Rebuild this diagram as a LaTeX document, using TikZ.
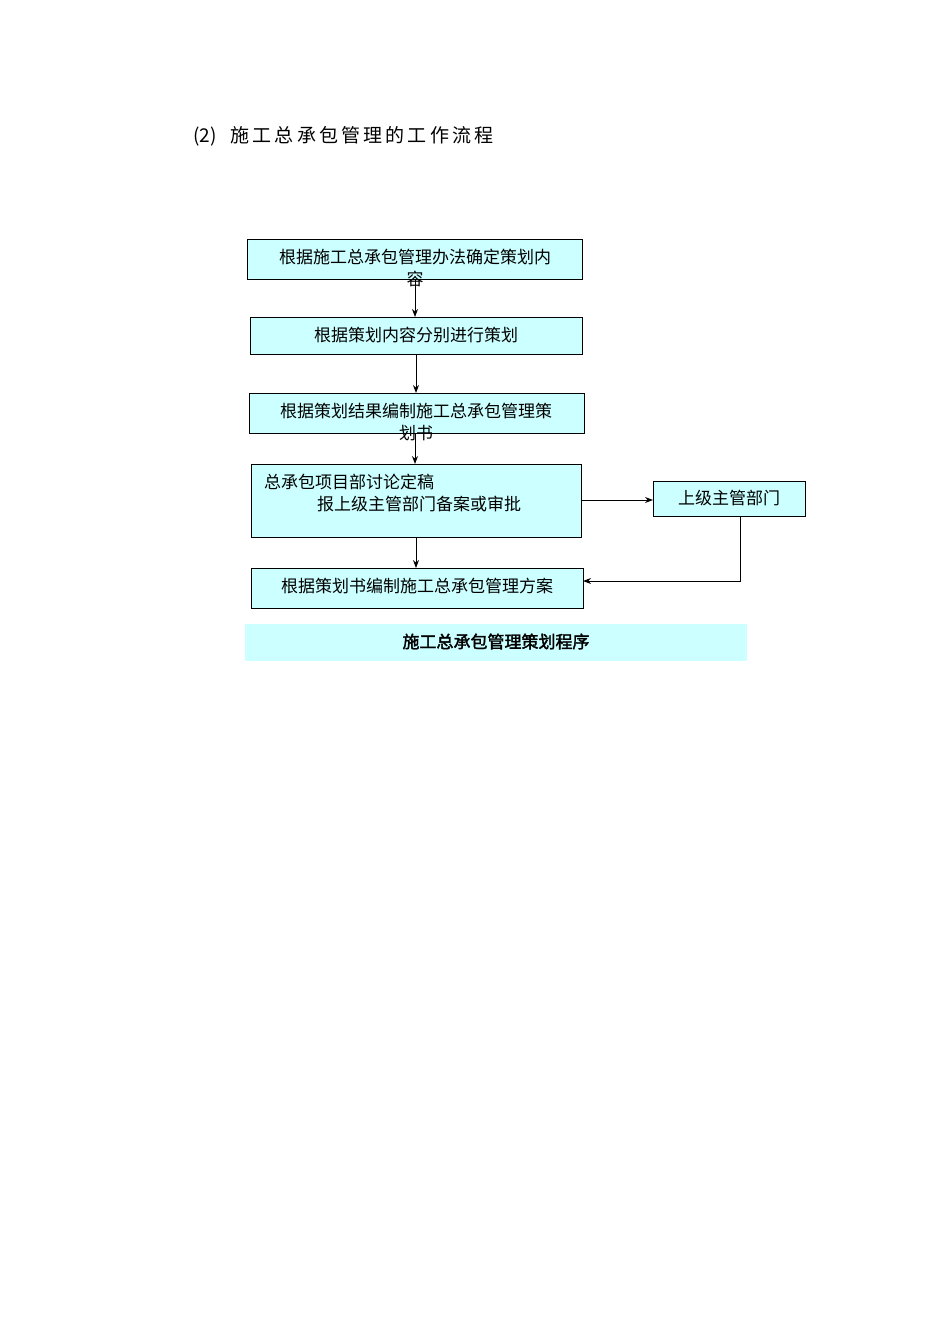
\documentclass[tikz,border=0pt]{standalone}
\usepackage{fontspec}
\newfontfamily\cjk[AutoFakeBold=2]{Noto Sans CJK SC}
\usetikzlibrary{arrows.meta}
\definecolor{boxc}{HTML}{CCFFFF}
\tikzset{
 bx/.style={draw=black,line width=1pt,fill=boxc},
 ln/.style={line width=1pt},
 ar/.style={line width=1pt,-{Stealth[length=8pt,width=6pt]}},
 tx/.style={font=\cjk\fontsize{17}{20}\selectfont,inner sep=0pt,anchor=base}
}
\begin{document}
\begin{tikzpicture}[x=1pt,y=-1pt]
\useasboundingbox[fill=white] (0,0) rectangle (950,1344);
\node[tx,anchor=base west,font=\cjk\fontsize{19}{22}\selectfont] (title) at (193,142) {(2)\hspace{14pt}施\,工\,总\,承\,包\,管\,理\,的\,工\,作\,流\,程};
\draw[bx] (247,239) rectangle (582,279);
\node[tx] (b1) at (415,263) {根据施工总承包管理办法确定策划内};
\node[tx] (b1b) at (415,285) {容};
\draw[bx] (250,317) rectangle (582,354);
\node[tx] (b2) at (416,341) {根据策划内容分别进行策划};
\draw[bx] (249,393) rectangle (584,433);
\node[tx] (b3) at (416,417) {根据策划结果编制施工总承包管理策};
\node[tx] (b3b) at (416,439) {划书};
\draw[bx] (251,464) rectangle (581,537);
\node[tx,anchor=base west] (b4) at (264,488) {总承包项目部讨论定稿};
\node[tx,anchor=base west] (b4b) at (317,510) {报上级主管部门备案或审批};
\draw[bx] (251,568) rectangle (583,608);
\node[tx] (b5) at (417,592) {根据策划书编制施工总承包管理方案};
\draw[bx] (653,481) rectangle (805,516);
\node[tx] (s) at (729,504) {上级主管部门};
\fill[boxc] (245,624) rectangle (747,661);
\node[tx,font=\cjk\bfseries\fontsize{17}{20}\selectfont] (cap) at (496,648) {施工总承包管理策划程序};
\coordinate (a1) at (415,279); \coordinate (a2) at (415,317);
\coordinate (c1) at (416,354); \coordinate (c2) at (416,393);
\coordinate (d1) at (415,433); \coordinate (d2) at (415,464);
\coordinate (e1) at (416,537); \coordinate (e2) at (416,568);
\coordinate (f1) at (581,500); \coordinate (f2) at (653,500);
\coordinate (g1) at (740,516); \coordinate (g2) at (740,581); \coordinate (g3) at (583,581);
\draw[ar] (a1) -- (a2);
\draw[ar] (c1) -- (c2);
\draw[ar] (d1) -- (d2);
\draw[ar] (e1) -- (e2);
\draw[ar] (f1) -- (f2);
\draw[ar] (g1) -- (g2) -- (g3);
\end{tikzpicture}
\end{document}
